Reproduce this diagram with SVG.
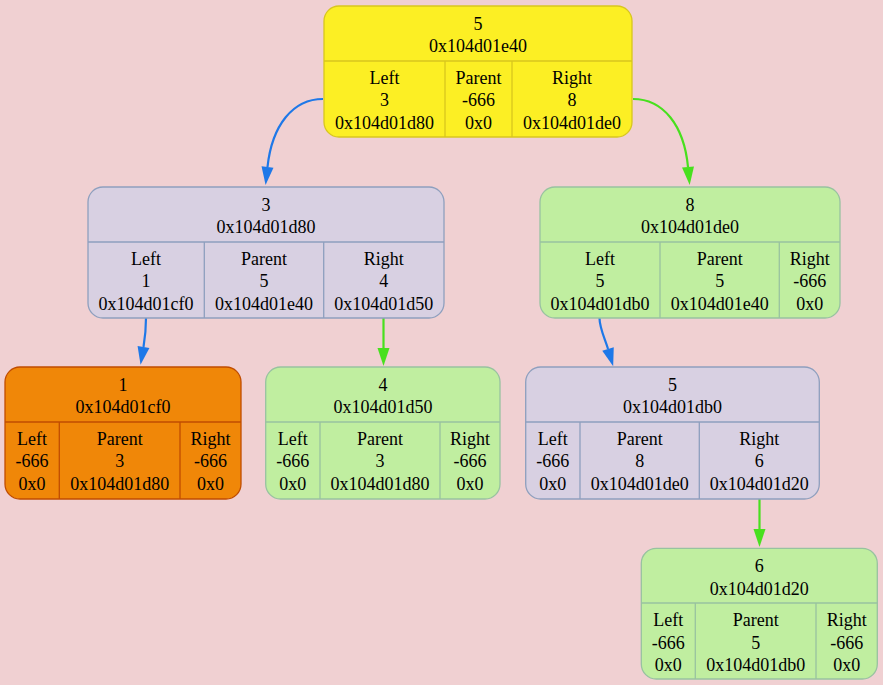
<svg xmlns="http://www.w3.org/2000/svg" width="883" height="685" viewBox="0 0 883 685" font-family="'Liberation Serif','Times New Roman',serif">
<defs>
<style>
text{font-family:"Liberation Serif","Times New Roman",serif;font-size:18px;fill:#000;stroke:none;text-anchor:middle}
.box{stroke-width:1.3}
.yel rect{fill:#fcef24;stroke:#d8c61e}
.lav rect{fill:#d8d0e2;stroke:#8e9fbe}
.grn rect{fill:#c0eea0;stroke:#98c2a0}
.org rect{fill:#f08708;stroke:#c04c00}
.yel line{stroke:#d8c61e}
.lav line{stroke:#8e9fbe}
.grn line{stroke:#98c2a0}
.org line{stroke:#c04c00}
line{stroke-width:1.3}
.e{fill:none;stroke-width:2.2}
.eb{stroke:#1e78e8;marker-end:url(#ab)}
.eg{stroke:#48e01e;marker-end:url(#ag)}
</style>
<marker id="ab" markerUnits="userSpaceOnUse" markerWidth="20" markerHeight="14" refX="0" refY="7" orient="auto" overflow="visible"><path d="M0,1 L18,7 L0,13 Z" fill="#1e78e8"/></marker>
<marker id="ag" markerUnits="userSpaceOnUse" markerWidth="20" markerHeight="14" refX="0" refY="7" orient="auto" overflow="visible"><path d="M0,1 L18,7 L0,13 Z" fill="#48e01e"/></marker>
</defs>
<rect width="883" height="685" fill="#f0d0d2"/>
<g id="edges">
<path class="e eb" d="M323,99 C293,99 272,125 267.5,167"/>
<path class="e eg" d="M633,99 C663,99 684,125 688,167"/>
<path class="e eb" d="M146,318 C146,328 145,338 143.5,347"/>
<path class="e eg" d="M383.5,318 L383.5,348"/>
<path class="e eb" d="M599.5,318 C599.5,328 605,339 608,349"/>
<path class="e eg" d="M759.5,499 L759.5,529"/>
</g>
<g id="n_e40" class="yel">
<rect class="box" x="324" y="6" width="308" height="131" rx="15"/>
<line x1="324" y1="61" x2="632" y2="61"/><line x1="445" y1="61" x2="445" y2="137"/><line x1="512" y1="61" x2="512" y2="137"/>
<text x="478" y="30">5</text><text x="478" y="52.4">0x104d01e40</text>
<text x="384.5" y="84">Left<tspan x="384.5" dy="22.4">3</tspan><tspan x="384.5" dy="22.4">0x104d01d80</tspan></text>
<text x="478.5" y="84">Parent<tspan x="478.5" dy="22.4">-666</tspan><tspan x="478.5" dy="22.4">0x0</tspan></text>
<text x="572" y="84">Right<tspan x="572" dy="22.4">8</tspan><tspan x="572" dy="22.4">0x104d01de0</tspan></text>
</g>
<g id="n_d80" class="lav">
<rect class="box" x="88" y="187" width="356" height="131" rx="15"/>
<line x1="88" y1="242" x2="444" y2="242"/><line x1="204.3" y1="242" x2="204.3" y2="318"/><line x1="323.7" y1="242" x2="323.7" y2="318"/>
<text x="266" y="211">3</text><text x="266" y="233.4">0x104d01d80</text>
<text x="146" y="265">Left<tspan x="146" dy="22.4">1</tspan><tspan x="146" dy="22.4">0x104d01cf0</tspan></text>
<text x="264" y="265">Parent<tspan x="264" dy="22.4">5</tspan><tspan x="264" dy="22.4">0x104d01e40</tspan></text>
<text x="383.8" y="265">Right<tspan x="383.8" dy="22.4">4</tspan><tspan x="383.8" dy="22.4">0x104d01d50</tspan></text>
</g>
<g id="n_de0" class="grn">
<rect class="box" x="540" y="187" width="300" height="131" rx="15"/>
<line x1="540" y1="242" x2="840" y2="242"/><line x1="660" y1="242" x2="660" y2="318"/><line x1="779.3" y1="242" x2="779.3" y2="318"/>
<text x="690" y="211">8</text><text x="690" y="233.4">0x104d01de0</text>
<text x="600" y="265">Left<tspan x="600" dy="22.4">5</tspan><tspan x="600" dy="22.4">0x104d01db0</tspan></text>
<text x="719.7" y="265">Parent<tspan x="719.7" dy="22.4">5</tspan><tspan x="719.7" dy="22.4">0x104d01e40</tspan></text>
<text x="809.7" y="265">Right<tspan x="809.7" dy="22.4">-666</tspan><tspan x="809.7" dy="22.4">0x0</tspan></text>
</g>
<g id="n_cf0" class="org">
<rect class="box" x="5" y="367" width="236" height="132" rx="15"/>
<line x1="5" y1="422" x2="241" y2="422"/><line x1="59.3" y1="422" x2="59.3" y2="499"/><line x1="180" y1="422" x2="180" y2="499"/>
<text x="123" y="391">1</text><text x="123" y="413.4">0x104d01cf0</text>
<text x="32" y="445">Left<tspan x="32" dy="22.4">-666</tspan><tspan x="32" dy="22.4">0x0</tspan></text>
<text x="119.7" y="445">Parent<tspan x="119.7" dy="22.4">3</tspan><tspan x="119.7" dy="22.4">0x104d01d80</tspan></text>
<text x="210.5" y="445">Right<tspan x="210.5" dy="22.4">-666</tspan><tspan x="210.5" dy="22.4">0x0</tspan></text>
</g>
<g id="n_d50" class="grn">
<rect class="box" x="265.7" y="367" width="234.3" height="132" rx="15"/>
<line x1="265.7" y1="422" x2="500" y2="422"/><line x1="320" y1="422" x2="320" y2="499"/><line x1="440" y1="422" x2="440" y2="499"/>
<text x="383" y="391">4</text><text x="383" y="413.4">0x104d01d50</text>
<text x="292.8" y="445">Left<tspan x="292.8" dy="22.4">-666</tspan><tspan x="292.8" dy="22.4">0x0</tspan></text>
<text x="380" y="445">Parent<tspan x="380" dy="22.4">3</tspan><tspan x="380" dy="22.4">0x104d01d80</tspan></text>
<text x="470" y="445">Right<tspan x="470" dy="22.4">-666</tspan><tspan x="470" dy="22.4">0x0</tspan></text>
</g>
<g id="n_db0" class="lav">
<rect class="box" x="525.7" y="367" width="293.6" height="132" rx="15"/>
<line x1="525.7" y1="422" x2="819.3" y2="422"/><line x1="580" y1="422" x2="580" y2="499"/><line x1="699.3" y1="422" x2="699.3" y2="499"/>
<text x="672.5" y="391">5</text><text x="672.5" y="413.4">0x104d01db0</text>
<text x="552.8" y="445">Left<tspan x="552.8" dy="22.4">-666</tspan><tspan x="552.8" dy="22.4">0x0</tspan></text>
<text x="639.7" y="445">Parent<tspan x="639.7" dy="22.4">8</tspan><tspan x="639.7" dy="22.4">0x104d01de0</tspan></text>
<text x="759.3" y="445">Right<tspan x="759.3" dy="22.4">6</tspan><tspan x="759.3" dy="22.4">0x104d01d20</tspan></text>
</g>
<g id="n_d20" class="grn">
<rect class="box" x="641.3" y="548.3" width="236" height="130.7" rx="15"/>
<line x1="641.3" y1="603" x2="877.3" y2="603"/><line x1="695.3" y1="603" x2="695.3" y2="679"/><line x1="816" y1="603" x2="816" y2="679"/>
<text x="759.3" y="572.3">6</text><text x="759.3" y="594.7">0x104d01d20</text>
<text x="668.3" y="626.3">Left<tspan x="668.3" dy="22.4">-666</tspan><tspan x="668.3" dy="22.4">0x0</tspan></text>
<text x="755.7" y="626.3">Parent<tspan x="755.7" dy="22.4">5</tspan><tspan x="755.7" dy="22.4">0x104d01db0</tspan></text>
<text x="846.7" y="626.3">Right<tspan x="846.7" dy="22.4">-666</tspan><tspan x="846.7" dy="22.4">0x0</tspan></text>
</g>
</svg>
